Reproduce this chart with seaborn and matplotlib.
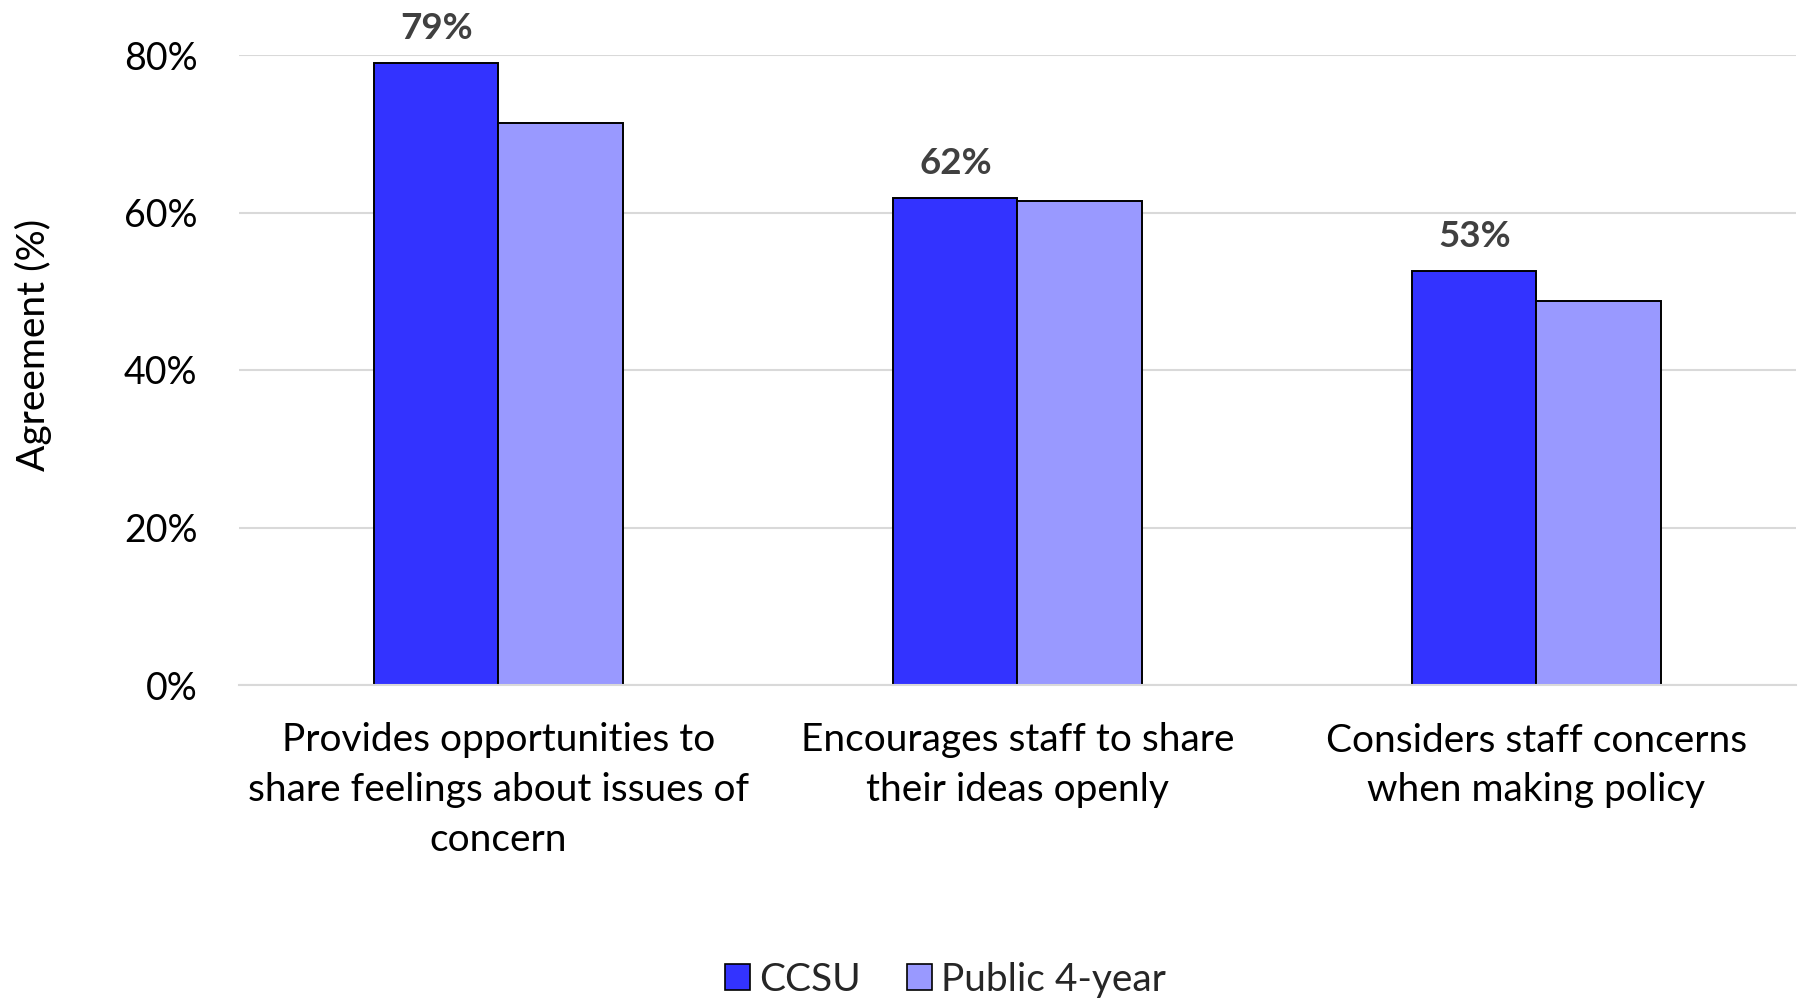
import matplotlib
matplotlib.use("Agg")
import matplotlib.pyplot as plt
import seaborn as sns
import pandas as pd
from matplotlib.ticker import PercentFormatter
from matplotlib.patches import Patch

categories = [
    "Provides opportunities to\nshare feelings about issues of\nconcern",
    "Encourages staff to share\ntheir ideas openly",
    "Considers staff concerns\nwhen making policy",
]
ccsu = [79.0, 61.8, 52.6]
public_4yr = [71.4, 61.5, 48.7]
series_names = ["CCSU", "Public 4-year"]
colors = ["#3333FF", "#9999FF"]

df = pd.DataFrame({
    "category": categories * 2,
    "group": [series_names[0]] * 3 + [series_names[1]] * 3,
    "value": ccsu + public_4yr,
})

sns.set_theme(style="white")
plt.rcParams["font.family"] = ["Lato", "DejaVu Sans"]

fig = plt.figure(figsize=(17.99, 10.01), dpi=100)
ax = fig.add_axes([239 / 1799, 1 - 685 / 1001, (1796 - 239) / 1799, (685 - 55) / 1001])

sns.barplot(data=df, x="category", y="value", hue="group", palette=colors,
            width=0.478, gap=0, edgecolor="black", linewidth=1.4,
            legend=False, ax=ax, saturation=1)

ax.set_ylim(0, 80)
ax.set_xlim(-0.5, 2.5)
ax.set_yticks([0, 20, 40, 60, 80])
ax.yaxis.set_major_formatter(PercentFormatter(decimals=0))
ax.yaxis.grid(True, color="#D9D9D9", linewidth=1.5)
ax.set_axisbelow(True)
for s in ["top", "right", "left"]:
    ax.spines[s].set_visible(False)
ax.spines["bottom"].set_color("#D9D9D9")
ax.spines["bottom"].set_linewidth(1.5)
ax.tick_params(axis="y", labelsize=27, colors="black", length=0, pad=30)
ax.tick_params(axis="x", labelsize=28, colors="black", length=0, pad=27)
for lab in ax.get_xticklabels():
    lab.set_linespacing(1.48)
ax.set_xlabel("")
ax.set_ylabel("Agreement (%)", fontsize=28, color="black")
ax.yaxis.set_label_coords(-0.132, 0.539)
ax.yaxis.label.set_va("center")

# value labels on the CCSU bars
ccsu_container = ax.containers[0]
for bar, v in zip(ccsu_container, ccsu):
    ax.text(bar.get_x() + bar.get_width() / 2, v + 2.3, f"{round(v):.0f}%",
            ha="center", va="bottom", fontsize=26.5, fontweight="bold",
            color="#404040", clip_on=False)

handles = [Patch(facecolor=c, edgecolor="black", linewidth=1.2, label=n)
           for c, n in zip(colors, series_names)]
fig.legend(handles=handles, loc="center", bbox_to_anchor=(0.5255, 1 - 980 / 1001),
           ncol=2, frameon=False, fontsize=28, handlelength=0.65, handleheight=0.65,
           handletextpad=0.23, columnspacing=1.2)

fig.savefig("out.png", dpi=100)
